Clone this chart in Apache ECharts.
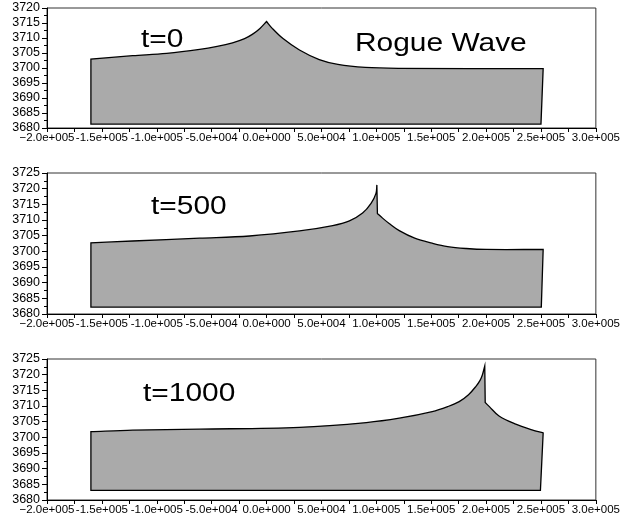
<!DOCTYPE html>
<html>
<head>
<meta charset="utf-8">
<script src="https://cdn.jsdelivr.net/npm/echarts@6/dist/echarts.min.js"></script>
<style>
html,body{margin:0;padding:0;background:#fff;}
#chart{width:623px;height:519px;}
</style>
</head>
<body>
<div id="chart"></div>
<script>
// ---- data ----
const panelTitles = ['t=0', 't=500', 't=1000'];
const chartTitle = 'Rogue Wave';
const yRanges = [[3680, 3720], [3680, 3725], [3680, 3725]];
const xRange = [-200000, 300000];

const t0_x = [-160000, -160000, -122000, -91000, -61000, -45000, -31000, -20000, -13000, -6000, 0, 5000, 15000, 30000, 48000, 65000, 90000, 120000, 252000, 250000];
const t0_y = [3681.3, 3703.0, 3704.1, 3704.9, 3706.2, 3707.2, 3708.4, 3709.8, 3711.2, 3713.2, 3715.5, 3713.3, 3709.8, 3706.0, 3702.8, 3701.2, 3700.2, 3699.9, 3699.8, 3681.3];

const t500_x = [-160000, -160000, -122000, -61000, -15500, 30000, 60300, 75500, 87500, 95200, 99700, 100500, 101000, 105700, 112000, 120900, 135000, 150900, 165000, 181800, 200000, 252000, 250300];
const t500_y = [3682.2, 3702.7, 3703.3, 3704.2, 3704.9, 3706.5, 3708.2, 3709.7, 3712.2, 3715.3, 3718.5, 3721.2, 3712.1, 3710.6, 3708.8, 3706.6, 3704.2, 3702.6, 3701.5, 3700.9, 3700.6, 3700.6, 3682.2];

const t1000_x = [-160000, -160000, -122000, -61000, 30000, 90900, 120900, 150900, 165000, 175500, 184000, 190600, 194500, 196600, 198800, 199200, 203000, 211800, 227000, 241800, 252000, 249500];
const t1000_y = [3683.1, 3701.8, 3702.3, 3702.6, 3703.2, 3704.7, 3706.1, 3708.2, 3709.8, 3711.4, 3713.6, 3716.2, 3718.2, 3719.9, 3722.8, 3711.1, 3709.8, 3706.8, 3704.2, 3702.4, 3701.4, 3683.1];

const profiles = [[t0_x, t0_y], [t500_x, t500_y], [t1000_x, t1000_y]];

// ---- layout ----
const grids = [
  {left: 47, top: 8, width: 550, height: 120},
  {left: 47, top: 173, width: 550, height: 141},
  {left: 47, top: 359, width: 550, height: 141}
];

function fmtX(v) {
  if (v === 0) return '0.0e+000';
  const s = v.toExponential(1);
  const parts = s.split('e');
  const sign = parts[1][0];
  const d = Math.abs(parseInt(parts[1], 10));
  let m = parts[0];
  if (v === xRange[0]) m = m.replace('-', '\u2212');
  return m + 'e' + sign + String(d).padStart(3, '0');
}

// sharp corners are kept by doubling vertices where the outline turns sharply,
// the rest of the outline is drawn with the renderer's bezier smoothing
function withCorners(pts) {
  const n = pts.length, out = [];
  for (let k = 0; k < n; k++) {
    const p = pts[k], a = pts[(k - 1 + n) % n], b = pts[(k + 1) % n];
    const a1 = Math.atan2(p[1] - a[1], p[0] - a[0]);
    const a2 = Math.atan2(b[1] - p[1], b[0] - p[0]);
    let d = Math.abs(a2 - a1);
    if (d > Math.PI) d = 2 * Math.PI - d;
    out.push(p);
    if (d > 0.75) out.push([p[0], p[1]]);
  }
  return out;
}

const chart = echarts.init(document.getElementById('chart'), null, {renderer: 'canvas'});

const option = {
  backgroundColor: '#fff',
  animation: false,
  grid: grids.map(g => Object.assign({show: true, borderColor: '#333', borderWidth: 1, backgroundColor: 'transparent'}, g)),
  xAxis: grids.map((g, i) => ({
    type: 'value', gridIndex: i, min: xRange[0], max: xRange[1], interval: 50000,
    axisLine: {show: true, onZero: false, lineStyle: {color: '#000', width: 1}},
    axisTick: {show: true, length: 4, lineStyle: {color: '#000'}},
    minorTick: {show: true, splitNumber: 2, length: 4, lineStyle: {color: '#000'}},
    splitLine: {show: false},
    axisLabel: {formatter: fmtX, showMinLabel: true, showMaxLabel: true, hideOverlap: false, color: '#000', fontSize: 11.5, fontFamily: 'Liberation Sans, Arial, sans-serif', margin: 4}
  })),
  yAxis: grids.map((g, i) => ({
    type: 'value', gridIndex: i, min: yRanges[i][0], max: yRanges[i][1], interval: 5,
    axisLine: {show: true, onZero: false, lineStyle: {color: '#000', width: 1}},
    axisTick: {show: true, length: 5, lineStyle: {color: '#000'}},
    minorTick: {show: true, splitNumber: 2, length: 3, lineStyle: {color: '#000'}},
    splitLine: {show: false},
    axisLabel: {formatter: v => String(v), showMinLabel: true, showMaxLabel: true, color: '#000', fontSize: 12.5, fontFamily: 'Liberation Sans, Arial, sans-serif', margin: 7}
  })),
  series: profiles.map((p, i) => ({
    type: 'custom', xAxisIndex: i, yAxisIndex: i,
    data: p[0].map((x, k) => [x, p[1][k]]),
    encode: {x: 0, y: 1},
    renderItem: function (params, api) {
      if (params.dataIndex !== 0) return;
      const xs = profiles[i][0], ys = profiles[i][1];
      const pts = withCorners(xs.map((x, k) => api.coord([x, ys[k]])));
      return {type: 'polygon', shape: {points: pts, smooth: 0.35}, style: {fill: '#aaaaaa', stroke: '#000', lineWidth: 1.3}};
    }
  })),
  graphic: [
    {type: 'text', x: 141, y: 39.5, scaleX: 1.15, style: {text: panelTitles[0], font: '26px "Liberation Sans", Arial, sans-serif', fill: '#000', align: 'left', verticalAlign: 'middle'}},
    {type: 'text', x: 355, y: 43.5, scaleX: 1.15, style: {text: chartTitle, font: '26px "Liberation Sans", Arial, sans-serif', fill: '#000', align: 'left', verticalAlign: 'middle'}},
    {type: 'text', x: 151, y: 207, scaleX: 1.15, style: {text: panelTitles[1], font: '26px "Liberation Sans", Arial, sans-serif', fill: '#000', align: 'left', verticalAlign: 'middle'}},
    {type: 'text', x: 143, y: 393.5, scaleX: 1.15, style: {text: panelTitles[2], font: '26px "Liberation Sans", Arial, sans-serif', fill: '#000', align: 'left', verticalAlign: 'middle'}}
  ]
};
chart.setOption(option);
</script>
</body>
</html>
